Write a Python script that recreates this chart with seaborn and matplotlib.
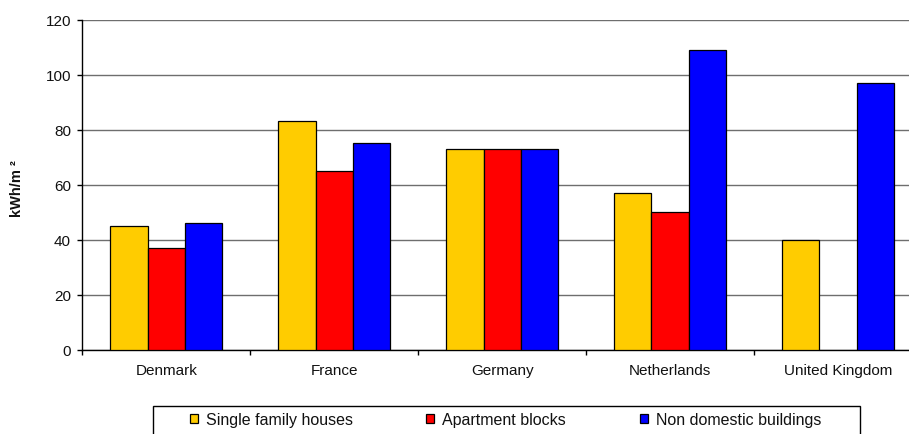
import numpy as np
import pandas as pd
import seaborn as sns
import matplotlib
matplotlib.use("Agg")
import matplotlib.pyplot as plt
from matplotlib.patches import Rectangle
from matplotlib.ticker import FixedLocator

countries = ["Denmark", "France", "Germany", "Netherlands", "United Kingdom"]
series_names = ["Single family houses", "Apartment blocks", "Non domestic buildings"]
single_family = [45, 83, 73, 57, 40]
apartment_blocks = [37, 65, 73, 50, None]
non_domestic = [46, 75, 73, 109, 97]
y_ticks = [0, 20, 40, 60, 80, 100, 120]
colors = ["#FFCC00", "#FF0000", "#0000FF"]

rows = []
for name, vals in zip(series_names, [single_family, apartment_blocks, non_domestic]):
    for c, v in zip(countries, vals):
        if v is not None:
            rows.append({"country": c, "series": name, "value": v})
df = pd.DataFrame(rows)

sns.set_theme(style="white")
plt.rcParams["font.family"] = ["Liberation Sans", "DejaVu Sans"]

W, H = 909, 435
fig = plt.figure(figsize=(W / 100, H / 100), dpi=100)
ax_left, ax_right, ax_top, ax_bot = 82.3, 922.0, 20.7, 350.5
ax = fig.add_axes([ax_left / W, 1 - ax_bot / H, (ax_right - ax_left) / W, (ax_bot - ax_top) / H])

sns.barplot(data=df, x="country", y="value", hue="series", order=countries,
            hue_order=series_names, palette=colors, width=0.665, gap=0,
            edgecolor="black", linewidth=0.9, saturation=1, errorbar=None,
            legend=False, ax=ax, zorder=3)

ax.set_ylim(0, 120)
ax.set_xlim(-0.5, len(countries) - 0.5)
ax.set_yticks(y_ticks)
ax.yaxis.grid(True, color="#6e6e6e", linewidth=1, zorder=0)
ax.xaxis.grid(False)
ax.set_axisbelow(True)

for s in ["top", "right"]:
    ax.spines[s].set_visible(False)
for s in ["left", "bottom"]:
    ax.spines[s].set_color("black")
    ax.spines[s].set_linewidth(1)

ax.tick_params(axis="y", which="major", direction="out", length=3.6, width=1,
               color="black", pad=4.5, labelsize=11, labelcolor="#111111", left=True)
ax.tick_params(axis="x", which="major", length=0, pad=10, labelsize=11, labelcolor="#111111")
ax.xaxis.set_minor_locator(FixedLocator(np.arange(-0.5, len(countries), 1.0)))
ax.tick_params(axis="x", which="minor", direction="out", length=3.6, width=1,
               color="black", bottom=True)

ax.set_xlabel("")
ax.set_ylabel("kWh/m ²", fontsize=10.5, fontweight="bold", color="#111111")
ax.yaxis.set_label_coords((24.5 - ax_left) / (ax_right - ax_left), 0.49)

# legend
handles = [Rectangle((0, 0), 1, 1, facecolor=c, edgecolor="black", linewidth=0.9) for c in colors]
leg = fig.legend(handles, series_names, loc="center left",
                 bbox_to_anchor=(190 / W, 1 - 421 / H), ncol=3, frameon=False,
                 fontsize=11.5, handlelength=0.5, handleheight=0.5,
                 handletextpad=0.5, columnspacing=4.6, borderpad=0, borderaxespad=0)
for t in leg.get_texts():
    t.set_color("#111111")
fig.patches.append(Rectangle((153 / W, -0.05), (860 - 153) / W, (1 - 407 / H) + 0.05,
                             transform=fig.transFigure, facecolor="none",
                             edgecolor="black", linewidth=1))

fig.savefig("out.png", dpi=100)
